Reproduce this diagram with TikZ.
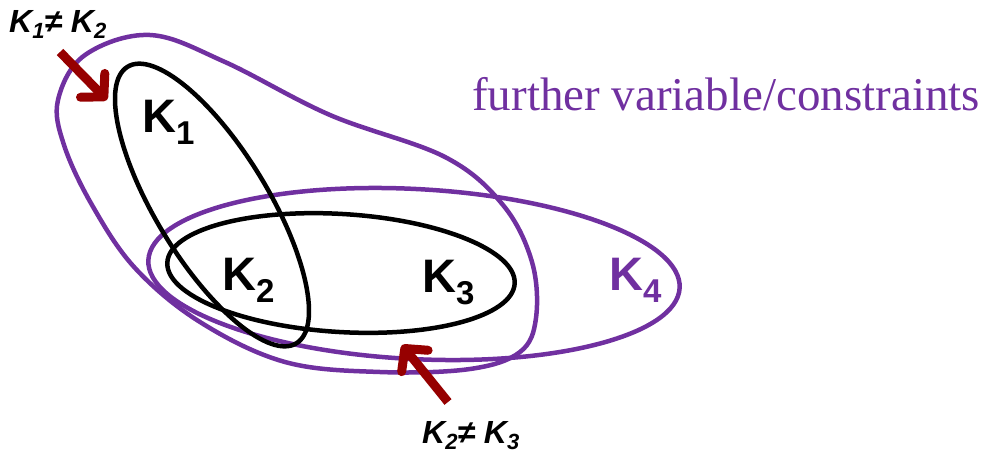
\documentclass[tikz,border=0pt]{standalone}
\usepackage{fontspec}
\setmainfont{Liberation Serif}
\newfontfamily\arialf{Liberation Sans}
\usetikzlibrary{arrows.meta}
\definecolor{kpurple}{RGB}{112,48,160}
\definecolor{kred}{RGB}{150,0,0}
\newcommand{\setlab}[2]{{\arialf\bfseries\fontsize{47}{47}\selectfont #1\raisebox{-12pt}{\fontsize{33}{33}\selectfont #2}}}
\newcommand{\neqlab}[2]{{\arialf\bfseries\itshape\fontsize{32}{32}\selectfont K\raisebox{-6pt}{\fontsize{22}{22}\selectfont #1}≠ K\raisebox{-6pt}{\fontsize{22}{22}\selectfont #2}}}
\begin{document}
\begin{tikzpicture}[x=1pt,y=-1pt,
  blackset/.style={draw=black,line width=4.5pt},
  purpleset/.style={draw=kpurple,line width=4.5pt},
  lab/.style={inner sep=0pt,anchor=base west},
  redarrow/.style={draw=kred,line width=9pt,-{Straight Barb[length=16pt,width=34pt,round]}}]
\useasboundingbox (0,0) rectangle (996,453);
% big purple blob
\draw[purpleset] plot[smooth cycle,tension=0.6] coordinates {
 (150,35) (225,62) (330,115) (445,157) (503,205) (532,262)
 (536,318) (520,352) (470,369) (380,372) (285,362) (200,322)
 (135,268) (92,205) (64,145) (58,100) (85,55)};
% K4
\draw[purpleset, rotate around={-3:(414,274)}] (414,274) ellipse [x radius=266, y radius=85];
% K1
\draw[blackset, rotate around={-58.6:(212,205)}] (212,205) ellipse [x radius=162, y radius=56];
% K2 K3
\draw[blackset, rotate around={-3.5:(341,273)}] (341,273) ellipse [x radius=174, y radius=59];
% labels
\node[lab] (k1) at (142,132) {\setlab{K}{1}};
\node[lab] (k2) at (222,290) {\setlab{K}{2}};
\node[lab] (k3) at (422,292) {\setlab{K}{3}};
\node[lab,text=kpurple] (k4) at (609,290) {\setlab{K}{4}};
\node[lab,text=kpurple] (further) at (472,110) {\fontsize{47}{47}\selectfont further variable/constraints};
\node[lab] (n12) at (9,32) {\neqlab{1}{2}};
\node[lab] (n23) at (422,443) {\neqlab{2}{3}};
% arrows
\coordinate (a1s) at (60,52);
\coordinate (a1e) at (107,100);
\coordinate (a2s) at (448,402);
\coordinate (a2e) at (402,345);
\draw[redarrow] (a1s) -- (a1e);
\draw[redarrow] (a2s) -- (a2e);
\end{tikzpicture}
\end{document}
